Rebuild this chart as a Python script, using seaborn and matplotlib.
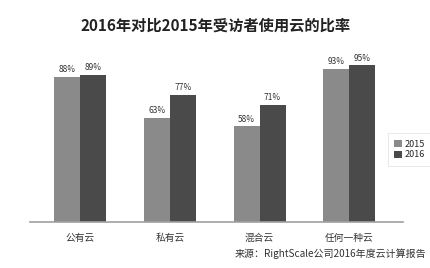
import matplotlib
matplotlib.use("Agg")
import matplotlib.pyplot as plt
import seaborn as sns
import pandas as pd

categories = ["公有云", "私有云", "混合云", "任何一种云"]
years = ["2015", "2016"]
values_2015 = [88, 63, 58, 93]
values_2016 = [89, 77, 71, 95]
title = "2016年对比2015年受访者使用云的比率"
source = "来源：RightScale公司2016年度云计算报告"

sns.set_theme(style="white")
plt.rcParams['font.family'] = ['Noto Sans CJK SC', 'DejaVu Sans']

df = pd.DataFrame({
    "cat": categories * 2,
    "year": [years[0]] * 4 + [years[1]] * 4,
    "val": values_2015 + values_2016,
})

fig = plt.figure(figsize=(4.31, 2.68), dpi=100)
ax = fig.add_axes([0.0696, 0.1716, 0.8654, 0.6154])
sns.barplot(data=df, x="cat", y="val", hue="year", hue_order=years,
            palette=["#8a8a8a", "#4a4a4a"], width=0.58, saturation=1,
            linewidth=0, edgecolor="none", ax=ax, legend=True)
ax.set_ylim(0, 100)
ax.set_xlim(-0.56, 3.6)
ax.set_xlabel("")
ax.set_ylabel("")
ax.set_yticks([])
for s in ["top", "right", "left"]:
    ax.spines[s].set_visible(False)
ax.spines["bottom"].set_color("#a0a0a0")
ax.spines["bottom"].set_linewidth(1.2)
ax.tick_params(axis="x", length=0, labelsize=7, colors="#333333", pad=8)

for cont in ax.containers:
    ax.bar_label(cont, labels=[f"{int(v)}%" for v in cont.datavalues],
                 fontsize=6, color="#333333", padding=2)

leg = ax.legend(loc="center left", bbox_to_anchor=(0.955, 0.44), fontsize=6.5,
                frameon=True, handlelength=0.8, handleheight=0.8,
                handletextpad=0.3, borderpad=0.4, labelspacing=0.2)
leg.get_frame().set_edgecolor("#dddddd")
leg.get_frame().set_linewidth(0.6)
leg.get_frame().set_boxstyle("square")

fig.text(0.5, 0.905, title, ha="center", va="center", fontsize=11,
         fontweight="bold", color="#222222")
fig.text(0.99, 0.055, source, ha="right", va="center", fontsize=7.2,
         color="#333333")

fig.savefig("out.png", dpi=100)
